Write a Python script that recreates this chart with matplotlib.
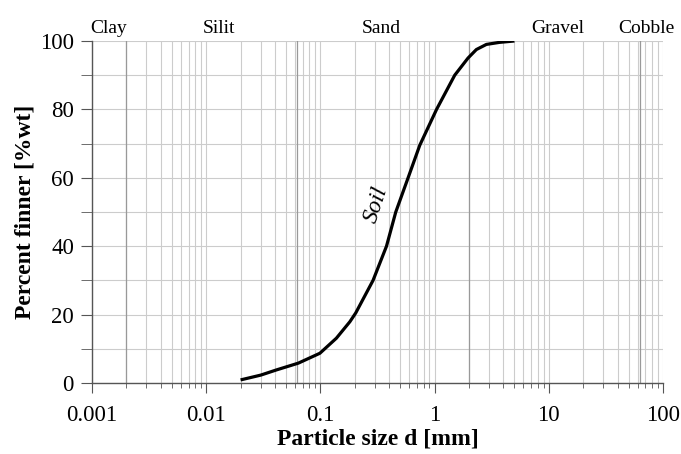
import numpy as np
import matplotlib.pyplot as plt
from matplotlib.ticker import LogLocator, NullFormatter, MultipleLocator
import matplotlib.transforms as mtransforms

plt.rcParams['font.family'] = ['Liberation Serif', 'DejaVu Serif']

# grain size distribution
size_mm = [0.02, 0.03, 0.041, 0.064, 0.099, 0.138, 0.181, 0.204, 0.289, 0.379,
           0.457, 0.586, 0.741, 1.04, 1.5, 1.96, 2.32, 2.84, 3.7, 5.0]
finer_pct = [0.9, 2.3, 3.8, 5.8, 8.7, 13.1, 17.9, 20.5, 30.0, 40.0,
             50.0, 60.0, 69.5, 80.0, 90.0, 95.0, 97.5, 99.0, 99.6, 100.0]

# class boundaries and labels
boundaries = [0.002, 0.063, 2, 63]
class_names = ["Clay", "Silit", "Sand", "Gravel", "Cobble"]
class_x = [0.00141, 0.0129, 0.338, 11.9, 72]

fig = plt.figure(figsize=(6.81, 4.54), dpi=100)
ax = fig.add_axes([0.1351, 0.1564, 0.9736 - 0.1351, 0.9097 - 0.1564])

ax.set_xscale("log")
ax.set_xlim(0.001, 100)
ax.set_ylim(0, 100)

# grid
ax.xaxis.set_major_locator(LogLocator(base=10, numticks=10))
ax.xaxis.set_minor_locator(LogLocator(base=10, subs=np.arange(2, 10), numticks=20))
ax.xaxis.set_minor_formatter(NullFormatter())
ax.yaxis.set_major_locator(MultipleLocator(20))
ax.yaxis.set_minor_locator(MultipleLocator(10))
ax.grid(True, which="both", color="#cccccc", linewidth=0.8)
for b in boundaries:
    ax.axvline(b, color="#999999", linewidth=0.9)
ax.set_axisbelow(True)

ax.plot(size_mm, finer_pct, color="black", linewidth=2.3,
        solid_capstyle="butt", solid_joinstyle="round")

ax.text(0.31, 52, "Soil", fontsize=17, style="italic", rotation=72,
        ha="center", va="center")

trans = mtransforms.blended_transform_factory(ax.transData, ax.transAxes)
for name, xpos in zip(class_names, class_x):
    ax.text(xpos, 1.023, name, transform=trans, ha="center", va="baseline", fontsize=14)

# spines and ticks
for s in ["top", "right"]:
    ax.spines[s].set_visible(False)
for s in ["left", "bottom"]:
    ax.spines[s].set_color("#555555")
    ax.spines[s].set_linewidth(1.0)
ax.tick_params(axis="y", which="both", direction="out", length=8, color="#555555",
               labelsize=16.5, pad=5)
ax.tick_params(axis="x", which="major", direction="out", length=7.5, color="#555555",
               labelsize=16.5, pad=8)
ax.tick_params(axis="x", which="minor", direction="out", length=3.5, color="#555555")
ax.set_xticks([0.001, 0.01, 0.1, 1, 10, 100])
ax.set_xticklabels(["0.001", "0.01", "0.1", "1", "10", "100"])

ax.set_xlabel("Particle size d [mm]", fontsize=17, fontweight="bold", labelpad=2)
ax.set_ylabel("Percent finner [%wt]", fontsize=17, fontweight="bold", labelpad=3)

plt.savefig("out.png", dpi=100)
